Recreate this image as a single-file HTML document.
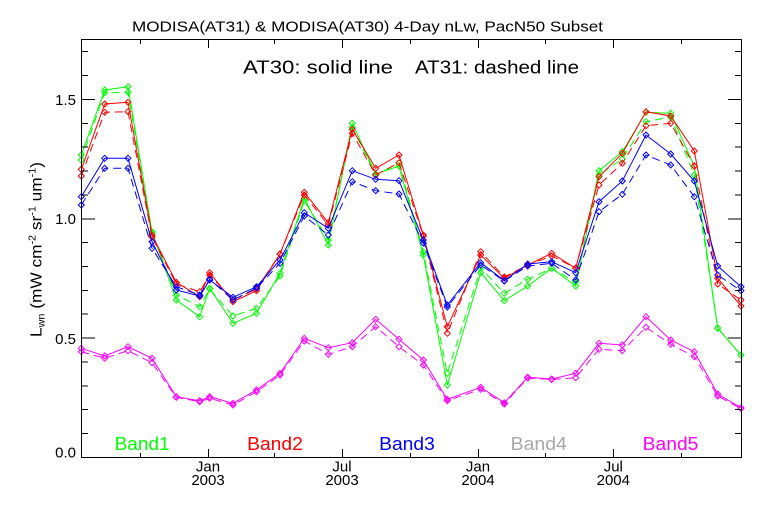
<!DOCTYPE html>
<html>
<head>
<meta charset="utf-8">
<style>
html,body{margin:0;padding:0;background:#fff;}
svg{display:block;}
text{font-family:"Liberation Sans",sans-serif;}
</style>
</head>
<body>
<svg width="768" height="512" viewBox="0 0 768 512" xmlns="http://www.w3.org/2000/svg">
<defs>
<marker id="mg" markerWidth="10" markerHeight="10" refX="5" refY="5" markerUnits="userSpaceOnUse" overflow="visible"><path d="M5 2 L8 5 L5 8 L2 5Z" fill="none" stroke="#00ff00" stroke-width="1"/></marker>
<marker id="mr" markerWidth="10" markerHeight="10" refX="5" refY="5" markerUnits="userSpaceOnUse" overflow="visible"><path d="M5 2 L8 5 L5 8 L2 5Z" fill="none" stroke="#ff0000" stroke-width="1"/></marker>
<marker id="mb" markerWidth="10" markerHeight="10" refX="5" refY="5" markerUnits="userSpaceOnUse" overflow="visible"><path d="M5 2 L8 5 L5 8 L2 5Z" fill="none" stroke="#0000ff" stroke-width="1"/></marker>
<marker id="mm" markerWidth="10" markerHeight="10" refX="5" refY="5" markerUnits="userSpaceOnUse" overflow="visible"><path d="M5 2 L8 5 L5 8 L2 5Z" fill="none" stroke="#ff00ff" stroke-width="1"/></marker>
</defs>

<rect width="768" height="512" fill="#fff"/>

<!-- Title -->
<text x="132" y="31.5" font-size="15" textLength="471" lengthAdjust="spacingAndGlyphs" fill="#000">MODISA(AT31) &amp; MODISA(AT30) 4-Day nLw, PacN50 Subset</text>

<!-- Annotation -->
<text x="243" y="73.3" font-size="18.5" textLength="150" lengthAdjust="spacingAndGlyphs" fill="#000">AT30: solid line</text>
<text x="415" y="73.3" font-size="18.5" textLength="164" lengthAdjust="spacingAndGlyphs" fill="#000">AT31: dashed line</text>

<!-- Data series -->
<g fill="none" stroke-width="1" stroke-linejoin="miter">
<!-- Band1 green -->
<polyline stroke="#00ff00" marker-start="url(#mg)" marker-mid="url(#mg)" marker-end="url(#mg)" points="81.3,155 104.7,90 128,86.7 152,231.7 176.3,300 199.7,316.7 209.7,288.3 233,323.3 256.5,313.3 280,273.3 304.3,198.3 328.3,245 352.3,123.3 375.7,174 399,166 423.3,255 447.3,385 480.7,272.7 504.3,300.7 527.7,286 551.7,268.3 575.7,286 599,170.7 622.3,151.7 646,112.3 670.7,113.3 694.3,166 717.7,328.3 741,355"/>
<polyline stroke="#00ff00" stroke-dasharray="8 5" marker-start="url(#mg)" marker-mid="url(#mg)" marker-end="url(#mg)" points="81.3,160 104.7,92.7 128,92.3 152,233 176.3,295 199.7,306.7 209.7,289 233,316 256.5,308.3 280,276 304.3,200.7 328.3,240 352.3,127.3 375.7,175 399,163 423.3,252 447.3,373.3 480.7,268 504.3,293.3 527.7,279.3 551.7,268.3 575.7,282 599,175 622.3,159 646,121.7 670.7,117 694.3,175 717.7,328 741,355"/>
<!-- Band2 red -->
<polyline stroke="#ff0000" marker-start="url(#mr)" marker-mid="url(#mr)" marker-end="url(#mr)" points="81.3,169.3 104.7,104 128,102.3 152,235 176.3,282.3 199.7,296.7 209.7,272.7 233,301.7 256.5,290.7 280,254 304.3,192.3 328.3,222.7 352.3,129.3 375.7,168.3 399,155 423.3,235 447.3,326.7 480.7,255 504.3,278.3 527.7,265 551.7,253.3 575.7,268.3 599,176.7 622.3,153.3 646,111.7 670.7,116 694.3,151 717.7,278.3 741,306"/>
<polyline stroke="#ff0000" stroke-dasharray="8 5" marker-start="url(#mr)" marker-mid="url(#mr)" marker-end="url(#mr)" points="81.3,176 104.7,112.3 128,111.7 152,237 176.3,284 199.7,291.7 209.7,275 233,300 256.5,289 280,254 304.3,195 328.3,225 352.3,133.3 375.7,175 399,162.7 423.3,236 447.3,333.3 480.7,251.7 504.3,277 527.7,265 551.7,256 575.7,268 599,185 622.3,163.3 646,125.7 670.7,123.3 694.3,166 717.7,284 741,300"/>
<!-- Band3 blue -->
<polyline stroke="#0000ff" marker-start="url(#mb)" marker-mid="url(#mb)" marker-end="url(#mb)" points="81.3,196.7 104.7,158.3 128,158.3 152,241.7 176.3,290 199.7,296 209.7,280 233,297.3 256.5,286.7 280,260 304.3,212.7 328.3,228.3 352.3,170.7 375.7,179.3 399,180.7 423.3,240 447.3,305 480.7,262.7 504.3,280.7 527.7,264 551.7,261.7 575.7,272.7 599,201.7 622.3,181 646,135 670.7,154 694.3,181 717.7,266 741,286.7"/>
<polyline stroke="#0000ff" stroke-dasharray="8 5" marker-start="url(#mb)" marker-mid="url(#mb)" marker-end="url(#mb)" points="81.3,205 104.7,168.3 128,168.3 152,248.3 176.3,286.7 199.7,295 209.7,279.3 233,300 256.5,288 280,263.3 304.3,216 328.3,235 352.3,181.7 375.7,190.7 399,194 423.3,243 447.3,307 480.7,265 504.3,281 527.7,266 551.7,263.3 575.7,280 599,211.7 622.3,194.3 646,155 670.7,165 694.3,196.7 717.7,275 741,290.7"/>
<!-- Band5 magenta -->
<polyline stroke="#ff00ff" marker-start="url(#mm)" marker-mid="url(#mm)" marker-end="url(#mm)" points="81.3,348.3 104.7,356 128,346.7 152,358.3 176.3,396.7 199.7,400.7 209.7,396.7 233,403.3 256.5,390 280,373.3 304.3,338.3 328.3,347.7 352.3,342.7 375.7,319.3 399,339.3 423.3,360 447.3,399.3 480.7,387.3 504.3,402.7 527.7,377.3 551.7,379 575.7,373.3 599,343.3 622.3,345 646,316.7 670.7,340 694.3,351.7 717.7,394 741,407.7"/>
<polyline stroke="#ff00ff" stroke-dasharray="8 5" marker-start="url(#mm)" marker-mid="url(#mm)" marker-end="url(#mm)" points="81.3,351.7 104.7,358.3 128,350.7 152,362.7 176.3,397.3 199.7,401.7 209.7,398.3 233,405 256.5,391.7 280,375 304.3,341 328.3,354.3 352.3,346.7 375.7,326.7 399,346.7 423.3,365 447.3,400.7 480.7,389.3 504.3,404 527.7,378 551.7,379.5 575.7,377.7 599,349.3 622.3,350.7 646,327.3 670.7,344.3 694.3,356.7 717.7,396 741,408.5"/>
</g>

<!-- Axes box -->
<g stroke="#000" stroke-width="1" fill="none" shape-rendering="crispEdges">
<rect x="81.5" y="39.5" width="660" height="418"/>
<path d="M81 457.5 H95 M81 433.6 H88 M81 409.7 H88 M81 385.8 H88 M81 362 H88 M81 338.1 H95 M81 314.2 H88 M81 290.4 H88 M81 266.5 H88 M81 242.6 H88 M81 218.8 H95 M81 194.9 H88 M81 171 H88 M81 147.2 H88 M81 123.3 H88 M81 99.4 H95 M81 75.5 H88 M81 51.7 H88"/>
<path d="M742 457.5 H728 M742 433.6 H735 M742 409.7 H735 M742 385.8 H735 M742 362 H735 M742 338.1 H728 M742 314.2 H735 M742 290.4 H735 M742 266.5 H735 M742 242.6 H735 M742 218.8 H728 M742 194.9 H735 M742 171 H735 M742 147.2 H735 M742 123.3 H735 M742 99.4 H728 M742 75.5 H735 M742 51.7 H735"/>
<path d="M140.5 457 V453 M208.5 457 V449 M274.5 457 V453 M342.5 457 V449 M410.5 457 V453 M478.5 457 V449 M545.5 457 V453 M613.5 457 V449 M681.5 457 V453"/>
<path d="M140.5 40 V44 M208.5 40 V48 M274.5 40 V44 M342.5 40 V48 M410.5 40 V44 M478.5 40 V48 M545.5 40 V44 M613.5 40 V48 M681.5 40 V44"/>
</g>

<!-- Y tick labels -->
<g font-size="15" fill="#000" text-anchor="end">
<text x="76" y="457.5">0.0</text>
<text x="76" y="343.8">0.5</text>
<text x="76" y="224">1.0</text>
<text x="76" y="104.8">1.5</text>
</g>

<!-- X tick labels -->
<g font-size="15" fill="#000" text-anchor="middle">
<text x="208" y="471.5">Jan</text>
<text x="208" y="485">2003</text>
<text x="342" y="471.5">Jul</text>
<text x="342" y="485">2003</text>
<text x="478" y="471.5">Jan</text>
<text x="478" y="485">2004</text>
<text x="613.3" y="471.5">Jul</text>
<text x="613.3" y="485">2004</text>
</g>

<!-- Y axis title -->
<text transform="translate(41.5,249.5) rotate(-90)" text-anchor="middle" font-size="16" fill="#000" textLength="175" lengthAdjust="spacingAndGlyphs">L<tspan font-size="10" dy="3">wn</tspan><tspan dy="-3"> (mW cm</tspan><tspan font-size="10" dy="-6">-2</tspan><tspan dy="6"> sr</tspan><tspan font-size="10" dy="-6">-1</tspan><tspan dy="6"> um</tspan><tspan font-size="10" dy="-6">-1</tspan><tspan dy="6">)</tspan></text>

<!-- Legend labels -->
<g font-size="18.5">
<text x="114.6" y="450" fill="#00ff00" textLength="55" lengthAdjust="spacingAndGlyphs">Band1</text>
<text x="247.1" y="450" fill="#ff0000" textLength="55.7" lengthAdjust="spacingAndGlyphs">Band2</text>
<text x="379.1" y="450" fill="#0000ff" textLength="55.7" lengthAdjust="spacingAndGlyphs">Band3</text>
<text x="510.6" y="450" fill="#a8a8a8" textLength="56.3" lengthAdjust="spacingAndGlyphs">Band4</text>
<text x="642.7" y="450" fill="#ff00ff" textLength="55.7" lengthAdjust="spacingAndGlyphs">Band5</text>
</g>
</svg>
</body>
</html>
